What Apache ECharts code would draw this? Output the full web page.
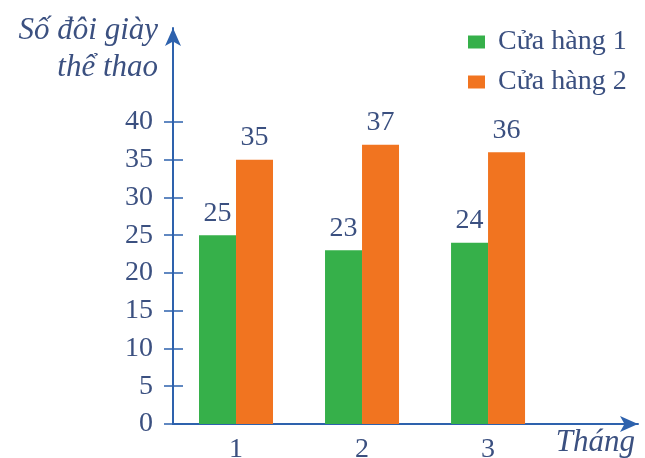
<!DOCTYPE html>
<html><head><meta charset="utf-8">
<script src="https://cdn.jsdelivr.net/npm/echarts@6/dist/echarts.min.js"></script>
<style>html,body{margin:0;padding:0;background:#fff}#c{width:645px;height:458px}</style>
</head><body><div id="c"></div>
<script>
const months = [1, 2, 3];
const monthLabels = ['1', '2', '3'];
const store1 = [25, 23, 24];
const store2 = [35, 37, 36];
const seriesNames = ['Cửa hàng 1', 'Cửa hàng 2'];
const yTicks = [0, 5, 10, 15, 20, 25, 30, 35, 40];
const yTitle = 'Số đôi giày\nthể thao';
const xTitle = 'Tháng';

const TXT = '#3b5080';
const AX = '#2e62ad';
const FONT = 'Liberation Serif';

const chart = echarts.init(document.getElementById('c'));
const yCommon = {
  type: 'value', min: 0, max: 52.45, position: 'left',
  splitLine: { show: false }
};
chart.setOption({
  animation: false,
  grid: { left: 173, right: 7, top: 28, bottom: 34, containLabel: false, outerBoundsMode: 'none' },
  legend: {
    orient: 'vertical', left: 463, top: 23, itemWidth: 17, itemHeight: 13, itemGap: 12,
    icon: 'rect',
    textStyle: { fontFamily: FONT, fontSize: 28, color: TXT, padding: [0, 0, 0, 8] }
  },
  xAxis: {
    type: 'value', min: 0.5, max: 4.19,
    splitLine: { show: false },
    axisLine: { lineStyle: { color: AX, width: 2 }, symbol: ['none', 'arrow'], symbolSize: [12, 18] },
    axisTick: { show: false },
    axisLabel: { customValues: months, formatter: v => monthLabels[months.indexOf(v)], fontFamily: FONT, fontSize: 28, color: TXT, margin: 12 },
    name: xTitle, nameLocation: 'end', nameGap: -3,
    nameTextStyle: { fontFamily: FONT, fontStyle: 'italic', fontSize: 31, color: TXT, align: 'right', verticalAlign: 'top', padding: [3, 0, 0, 0] }
  },
  yAxis: [
    Object.assign({}, yCommon, {
      axisLine: { show: true, lineStyle: { color: AX, width: 2 }, symbol: ['none', 'arrow'], symbolSize: [12, 18] },
      axisTick: { show: true, customValues: yTicks, length: 9, lineStyle: { color: AX, width: 1.5 } },
      axisLabel: { customValues: yTicks, fontFamily: FONT, fontSize: 28, color: TXT, margin: 20 },
      name: yTitle, nameLocation: 'end', nameGap: 16,
      nameTextStyle: { fontFamily: FONT, fontStyle: 'italic', fontSize: 31, lineHeight: 37, color: TXT, align: 'right', verticalAlign: 'top', padding: [0, 15, 0, 0] }
    }),
    Object.assign({}, yCommon, {
      axisLine: { show: false },
      axisTick: { show: true, inside: true, customValues: yTicks, length: 10, lineStyle: { color: AX, width: 1.5 } },
      axisLabel: { show: false }
    })
  ],
  series: [
    {
      name: seriesNames[0], type: 'bar', barWidth: 37, barGap: '0%',
      itemStyle: { color: '#36b04a' },
      label: { show: true, position: 'top', distance: 8, fontFamily: FONT, fontSize: 28, color: TXT },
      data: months.map((m, i) => [m, store1[i]])
    },
    {
      name: seriesNames[1], type: 'bar', barWidth: 37, barGap: '0%',
      itemStyle: { color: '#f17420' },
      label: { show: true, position: 'top', distance: 8, fontFamily: FONT, fontSize: 28, color: TXT },
      data: months.map((m, i) => [m, store2[i]])
    }
  ]
});
</script></body></html>
